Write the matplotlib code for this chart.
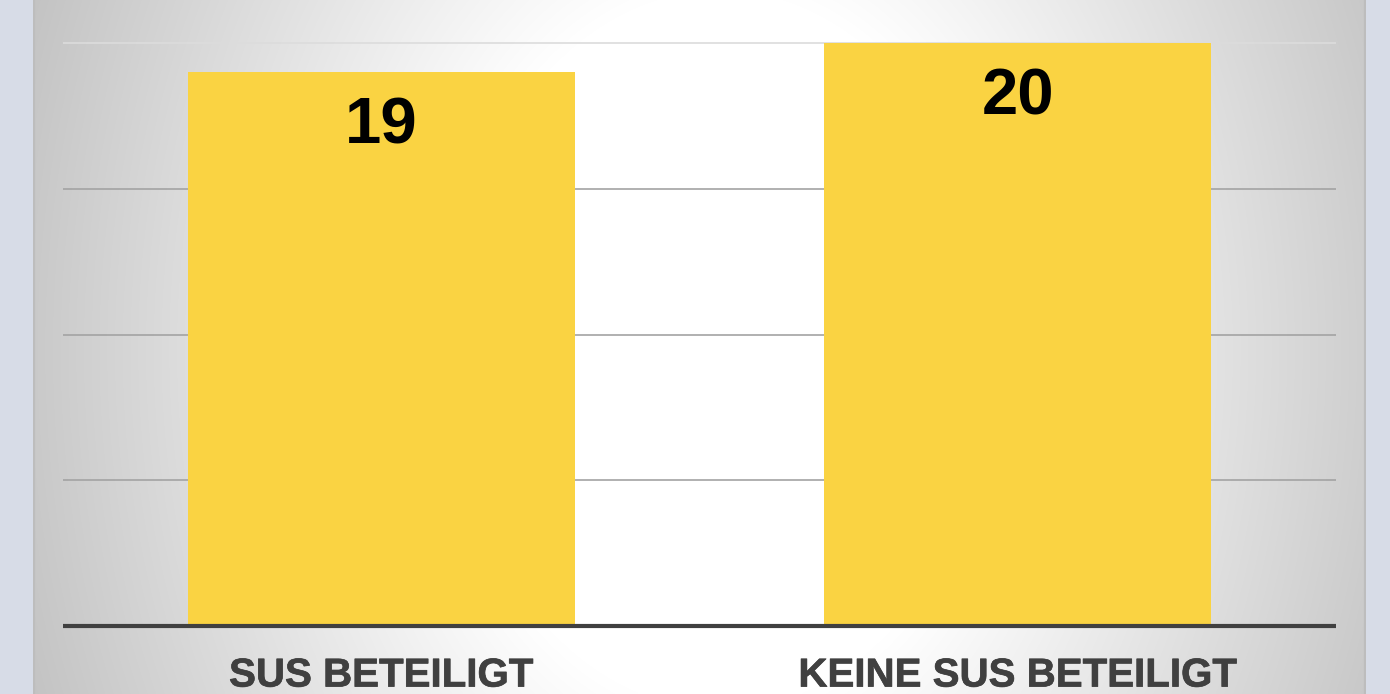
import numpy as np
import matplotlib
matplotlib.use("Agg")
import matplotlib.pyplot as plt
import matplotlib.patheffects as pe

categories = ["SUS BETEILIGT", "KEINE SUS BETEILIGT"]
values = [19, 20]
yticks = [0, 5, 10, 15, 20]

W, H = 1390, 694
fig = plt.figure(figsize=(W / 100, H / 100), dpi=100)
fig.patch.set_facecolor("#D7DCE7")

# panel with radial gradient
px0, px1 = 33, 1366
bg = fig.add_axes([px0 / W, 0, (px1 - px0) / W, 1])
xs = np.arange(px0, px1)
ys = np.arange(0, H)
X, Y = np.meshgrid(xs, ys)
d = np.sqrt(((X - 720) / 680.0) ** 2 + ((Y - 350) / 900.0) ** 2)
val = 255 - np.clip((d - 0.4) / 0.65, 0, None) * 57
val = np.clip(val, 185, 255) / 255.0
img = np.dstack([val, val, val])
bg.imshow(img, aspect="auto", extent=[0, 1, 0, 1], interpolation="bilinear")
bg.set_xlim(0, 1)
bg.set_ylim(0, 1)
bg.axis("off")
bg.plot([0.001, 0.001], [0, 1], color="#BDBDBD", lw=1.6, transform=bg.transAxes)
bg.plot([0.999, 0.999], [0, 1], color="#BDBDBD", lw=1.6, transform=bg.transAxes)

# main axes
ax0, ax1 = 63, 1336
base_y = 626
unit = (626 - 43) / 20.0
ax = fig.add_axes([ax0 / W, (H - base_y) / H, (ax1 - ax0) / W, base_y / H])
ax.set_facecolor("none")
x = np.arange(len(categories))
ax.bar(x, values, width=0.608, color="#FAD342", zorder=2)
ax.set_xlim(-0.5, 1.5)
ax.set_ylim(0, base_y / unit)
ax.set_yticks(yticks)
ax.yaxis.grid(True, color="#A3A3A3", lw=1.2, zorder=1)
ax.set_axisbelow(True)
gl = ax.get_ygridlines()
gl[-1].set_color("#DCDCDC")
gl[0].set_visible(False)
ax.tick_params(axis="y", length=0, labelleft=False)
ax.tick_params(axis="x", length=0, pad=22)
ax.set_xticks(x)
ax.set_xticklabels(categories, fontsize=29, fontweight="bold",
                   color="#404040", family="Liberation Sans")
for t in ax.get_xticklabels():
    t.set_path_effects([pe.withStroke(linewidth=0.5, foreground="#404040")])
for s in ["top", "left", "right"]:
    ax.spines[s].set_visible(False)
ax.spines["bottom"].set_color("#404040")
ax.spines["bottom"].set_linewidth(3.0)
ax.spines["bottom"].set_capstyle("butt")
ax.spines["bottom"].set_zorder(3)

for xi, v in zip(x, values):
    ax.annotate(str(v), xy=(xi, v), xytext=(0, -39), textcoords="offset points",
                ha="center", va="center", fontsize=47, fontweight="bold",
                color="black", family="Liberation Sans", zorder=4)

fig.savefig("out.png", dpi=100, facecolor=fig.get_facecolor())
